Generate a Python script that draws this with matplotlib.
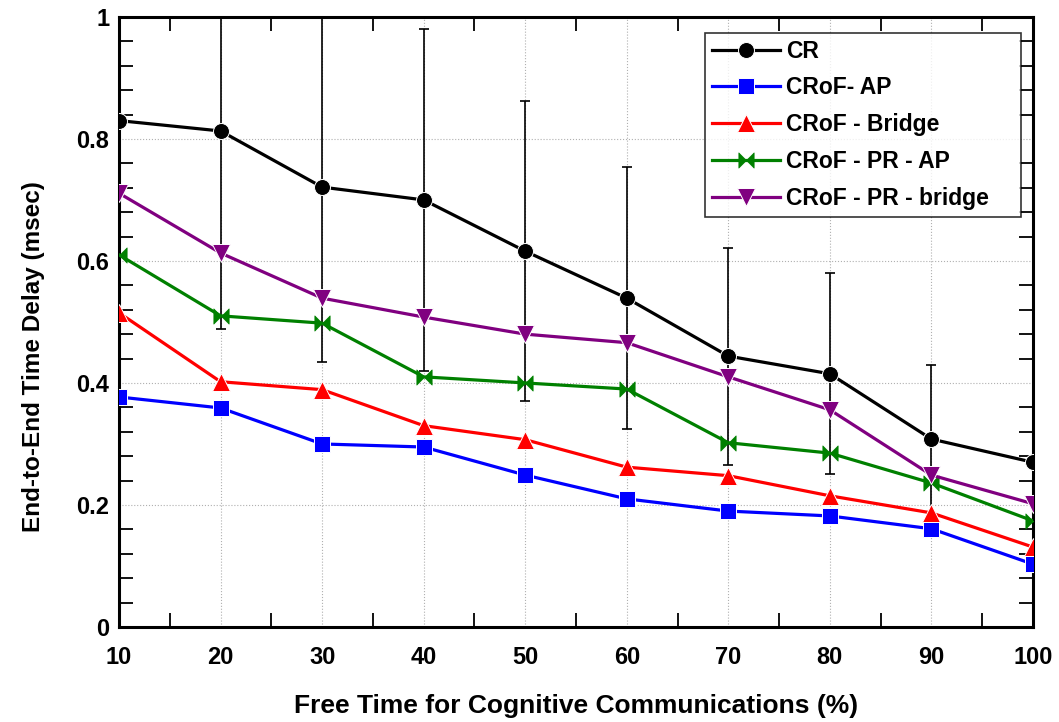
import numpy as np
import matplotlib
matplotlib.use("Agg")
import matplotlib.pyplot as plt
from matplotlib.path import Path
from matplotlib.ticker import MultipleLocator

plt.rcParams["font.family"] = ["Liberation Sans", "DejaVu Sans"]
plt.rcParams["font.weight"] = "bold"

free_time = [10, 20, 30, 40, 50, 60, 70, 80, 90, 100]

cr = [0.830, 0.813, 0.721, 0.700, 0.616, 0.539, 0.444, 0.415, 0.308, 0.270]
cr_err = [0.0, 0.324, 0.287, 0.280, 0.246, 0.215, 0.178, 0.165, 0.121, 0.0]
crof_ap = [0.377, 0.359, 0.300, 0.295, 0.249, 0.210, 0.190, 0.182, 0.161, 0.103]
crof_bridge = [0.515, 0.402, 0.389, 0.330, 0.307, 0.262, 0.248, 0.215, 0.187, 0.131]
crof_pr_ap = [0.610, 0.510, 0.498, 0.410, 0.400, 0.390, 0.302, 0.285, 0.236, 0.174]
crof_pr_bridge = [0.711, 0.613, 0.539, 0.508, 0.480, 0.466, 0.410, 0.356, 0.249, 0.202]

labels = ["CR", "CRoF- AP", "CRoF - Bridge", "CRoF - PR - AP", "CRoF - PR - bridge"]

# bowtie marker: two triangles pointing at each other
bowtie = Path(
    [(-1, 1), (0, 0), (-1, -1), (-1, 1), (1, 1), (0, 0), (1, -1), (1, 1)],
    [Path.MOVETO, Path.LINETO, Path.LINETO, Path.CLOSEPOLY,
     Path.MOVETO, Path.LINETO, Path.LINETO, Path.CLOSEPOLY],
)

fig = plt.figure(figsize=(10.59, 7.22), dpi=100)
ax = fig.add_axes([0.1124, 0.1316, 0.863, 0.845])

ax.errorbar(free_time[1:-1], cr[1:-1], yerr=cr_err[1:-1], fmt="none",
            ecolor="black", elinewidth=1.2, capsize=3.6, capthick=1.2, zorder=2)

lw = 2.3
ax.plot(free_time, cr, color="black", lw=lw, marker="o", ms=11.5,
        mec="white", mew=0.7, label=labels[0], zorder=3)
ax.plot(free_time, crof_ap, color="blue", lw=lw, marker="s", ms=11,
        mec="white", mew=0.7, label=labels[1], zorder=3)
ax.plot(free_time, crof_bridge, color="red", lw=lw, marker="^", ms=12.5,
        mec="white", mew=0.7, label=labels[2], zorder=3)
ax.plot(free_time, crof_pr_ap, color="green", lw=lw, marker=bowtie, ms=11,
        mec="green", mew=0.5, label=labels[3], zorder=3)
ax.plot(free_time, crof_pr_bridge, color="purple", lw=lw, marker="v", ms=12.5,
        mec="white", mew=0.7, label=labels[4], zorder=3)

ax.set_xlim(10, 100)
ax.set_ylim(0, 1)
ax.xaxis.set_major_locator(MultipleLocator(10))
ax.xaxis.set_minor_locator(MultipleLocator(5))
ax.yaxis.set_minor_locator(MultipleLocator(0.04))
ax.set_yticks([0, 0.2, 0.4, 0.6, 0.8, 1.0])
ax.set_yticklabels(["0", "0.2", "0.4", "0.6", "0.8", "1"])

ax.tick_params(which="both", direction="in", top=True, right=True)
ax.tick_params(which="major", length=0, labelsize=17)
ax.tick_params(axis="x", which="major", pad=14)
ax.tick_params(axis="y", which="major", pad=7)
ax.tick_params(which="minor", length=10, width=1.3)
for lab in ax.get_xticklabels() + ax.get_yticklabels():
    lab.set_fontweight("bold")

ax.grid(True, which="major", color="#b0b0b0", linestyle=":", linewidth=0.8)
for sp in ax.spines.values():
    sp.set_linewidth(2.2)

ax.set_xlabel("Free Time for Cognitive Communications (%)", fontsize=19,
              fontweight="bold")
ax.xaxis.set_label_coords(0.5, -0.110)
ax.set_ylabel("End-to-End Time Delay (msec)", fontsize=17.5,
              fontweight="bold")
ax.yaxis.set_label_coords(-0.081, 0.443)

leg = ax.legend(loc="upper left", bbox_to_anchor=(0.641, 0.5, 0.346, 0.474),
                mode="expand",
                frameon=True, fancybox=False, edgecolor="black",
                handlelength=3.0, handletextpad=0.25, labelspacing=0.6,
                borderpad=0.3, borderaxespad=0.0,
                prop={"weight": "bold", "size": 16.5})
leg.get_frame().set_linewidth(1.2)

fig.savefig("out.png", dpi=100)
